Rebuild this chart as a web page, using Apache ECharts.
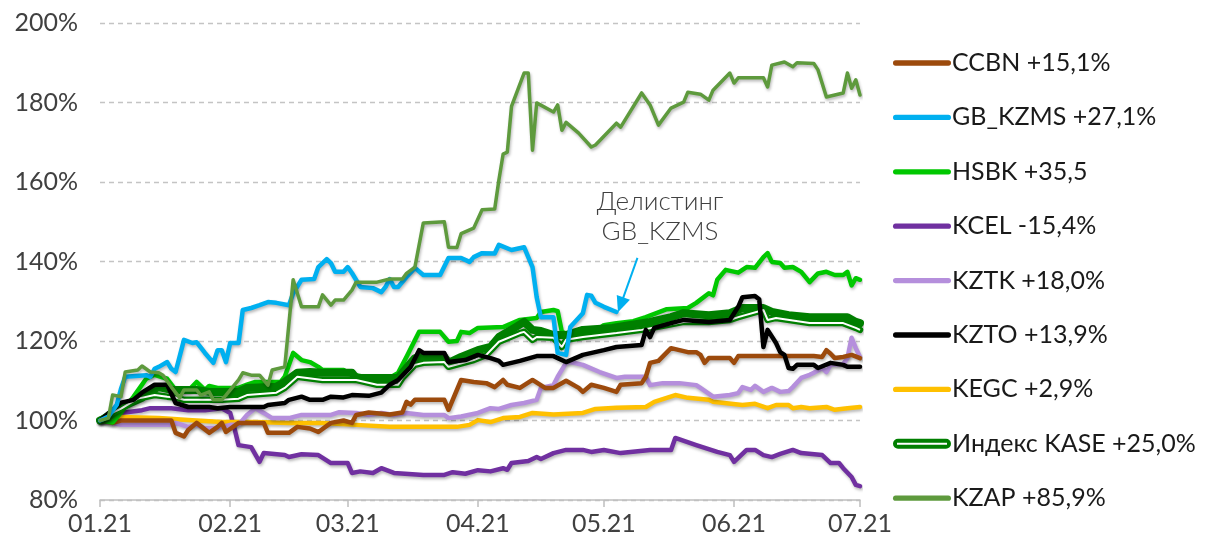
<!DOCTYPE html>
<html>
<head>
<meta charset="utf-8">
<script src="https://cdn.jsdelivr.net/npm/echarts@6/dist/echarts.min.js"></script>
<style>
  html, body { margin: 0; padding: 0; background: #fff; }
  #chart { width: 1210px; height: 541px; }
</style>
</head>
<body>
<div id="chart"></div>
<script>
  // дни от 01.01.2021 -> подписи месяцев
  const tickDays = [0, 31, 59, 90, 120, 151, 181];
  const tickLabels = ['01.21', '02.21', '03.21', '04.21', '05.21', '06.21', '07.21'];

  // [день, %]
  const ccbn = [[0,100],[3,99.4],[5,100],[17,100],[18,96.9],[20,96],[21,97.6],[23,99.4],[26,96.9],[28,98.4],[29,99.4],[30,97.1],[33,99.4],[39,99.4],[40,96.9],[45,96.9],[47,98.4],[50,98],[52,97.1],[55,99.4],[58,100],[60,99.4],[61,101.4],[64,102],[69,101.5],[72,102],[73,104.7],[74,104],[75,105.2],[82,105.2],[83,102.7],[85,107.7],[86,110.2],[89,109.7],[92,109.4],[94,108.4],[96,110.2],[97,109],[100,108.2],[103,110.2],[106,108.2],[108,108.2],[111,110],[114,108.2],[115,107.2],[117,109],[120,108.2],[123,107.2],[124,109],[129,109.4],[130,111],[131,114.5],[133,115],[136,118.2],[140,117.2],[142,117.2],[143,116.5],[144,114.5],[145,115.7],[150,115.7],[151,114.5],[152,116.2],[170,116.2],[172,116],[173,117.7],[174,116.8],[175,115.7],[177,116],[179,116.5],[181,115.7]];
  const gbKzms = [[0,100],[2,101],[4,104],[5,108],[6,111],[11,111.4],[12,111],[13,113],[14,113.5],[16,114.7],[17,113],[18,112.2],[20,120.3],[22,119.5],[23,119.7],[25,117],[27,114.5],[28,117.7],[29,117.7],[30,114.7],[31,119.5],[33,119.5],[34,127.8],[36,128.3],[38,129],[40,129.8],[42,129.6],[45,129],[46,132],[48,135.4],[51,135.6],[52,138.6],[54,140.6],[55,139.6],[56,137.4],[58,137.4],[59,138.6],[60,137.1],[62,133.6],[65,133.3],[67,132.3],[68,133.6],[69,135.6],[70,133.6],[71,133.6],[73,136.1],[75,138.4],[77,136.6],[81,136.6],[83,140.9],[86,140.9],[88,139.9],[89,141.1],[91,142.1],[94,142],[95,144.2],[98,142.9],[101,143.6],[103,138.6],[104,131],[105,126],[108,126],[109,117],[111,116.5],[112,123.5],[115,127],[116,131.6],[117,131.4],[118,129.6],[120,128.6],[123,127.3]];
  const hsbk = [[0,100],[3,99.5],[5,102],[8,106],[11,110.5],[13,111.5],[16,110.5],[18,107.7],[21,107.5],[23,109.7],[25,107.7],[26,108.7],[28,108.2],[33,108.2],[35,109],[37,109.7],[43,109.7],[44,111],[46,117],[48,115.2],[50,114.7],[52,113.5],[53,112.7],[58,112.7],[60,111.4],[61,111.4],[64,110.7],[69,110.7],[71,112],[73,116],[76,122.3],[81,122.3],[83,119.8],[85,120],[86,122.3],[88,122],[90,123.3],[96,123.5],[100,125.3],[104,125.8],[105,127.3],[108,127.8],[109,127.5],[110,122.3],[112,121.5],[117,121.7],[120,124],[123,124.5],[127,125],[130,126],[135,128],[140,128.3],[142,129.6],[145,132],[146,131.5],[147,135.4],[149,137.9],[152,137.2],[153,137.9],[154,138.6],[156,138.4],[158,141.1],[159,142.1],[160,139.9],[162,139.6],[163,138.4],[165,138.6],[167,137.4],[169,134.8],[171,137],[173,137.4],[175,136.6],[177,136.6],[178,137.4],[179,134],[180,135.8],[181,135.4]];
  const kcel = [[0,100],[5,101.9],[10,102.6],[12,103.1],[17,103.1],[21,102.6],[25,102.6],[29,103.1],[31,101.9],[32,98.1],[33,93.8],[36,93.3],[38,89.6],[39,91.8],[44,91.3],[45,90.8],[48,91.5],[52,91.3],[55,89.3],[59,89.3],[60,86.8],[62,87.2],[65,86.8],[67,88],[70,86.8],[77,86.3],[82,86.3],[84,87],[87,86.6],[90,87.5],[93,87.2],[96,88],[97,87.6],[98,89.3],[102,89.8],[104,90.8],[105,90.3],[108,91.8],[111,92.6],[115,92.6],[117,92.1],[120,92.6],[124,91.8],[131,92.6],[136,92.6],[137,95.6],[142,93.8],[147,92.1],[150,91.3],[151,89.6],[154,92.6],[156,92.6],[158,91.3],[160,90.8],[162,91.6],[165,92.6],[167,91.8],[172,91.3],[174,89.3],[176,89.3],[177,88],[179,85.8],[180,83.8],[181,83.5]];
  const kztk = [[0,100],[5,98.9],[17,98.9],[18,99.4],[21,98.4],[23,98.9],[25,98.1],[28,98.1],[31,98.9],[33,98.9],[35,101.4],[37,103.1],[39,101.9],[41,100.6],[45,100.6],[48,101.4],[55,101.4],[57,102.1],[61,101.9],[64,101.4],[67,101.9],[70,101.4],[73,101.9],[77,101.4],[82,101.4],[83,100.6],[86,101],[90,101.9],[93,103.1],[95,102.9],[98,103.9],[101,104.4],[104,105.2],[105,108.2],[108,108.9],[109,111],[111,114.5],[112,114.7],[115,114],[119,112.2],[123,110.7],[125,111],[130,111],[131,108.9],[134,109.4],[138,109.4],[142,108.9],[143,108.2],[146,106],[150,106.4],[152,106.9],[153,108.4],[155,107.7],[156,108.7],[158,107.2],[160,108.2],[162,107.2],[164,107.4],[165,108.4],[167,110.7],[169,111.5],[170,112],[172,113.2],[173,112.2],[174,114],[177,114.2],[178,115.7],[179,120.8],[180,118.2],[181,116]];
  const kzto = [[0,100],[5,104.5],[8,105.2],[10,107],[13,109],[16,109],[18,104.4],[21,103.4],[26,103.4],[28,103.1],[31,103.4],[39,103.4],[40,103.9],[44,104.4],[45,105.2],[48,106],[50,105.2],[53,105.2],[55,106],[58,105.8],[60,106.4],[64,106.2],[67,107],[69,109],[71,110.2],[74,113.5],[76,117.7],[77,117],[82,117],[83,114.7],[87,115.2],[90,116.5],[93,115.7],[95,115],[96,114],[100,115],[104,116.2],[108,116.2],[111,114.7],[115,116.5],[120,117.7],[123,118.5],[129,119],[130,122.8],[131,121],[132,123.3],[136,124.5],[139,125.3],[145,124.8],[150,125.3],[152,128.6],[153,131],[156,131.3],[157,130.5],[158,118.5],[159,122.8],[161,119.5],[162,117.2],[163,116.5],[164,113.2],[165,113],[166,114],[170,114],[171,113.2],[174,114.5],[177,114],[178,113.5],[181,113.5]];
  const kegc = [[0,100],[2,100.6],[5,100.9],[14,100.6],[21,100.1],[29,99.6],[37,99.6],[45,99.4],[53,99.4],[61,98.9],[69,98.4],[85,98.4],[88,98.9],[90,100.1],[93,99.6],[96,100.6],[100,100.9],[103,101.9],[108,101.5],[115,101.9],[118,102.9],[123,103.2],[130,103.4],[132,104.7],[137,106.4],[140,105.7],[145,105.2],[146,104.7],[153,103.9],[156,104.2],[159,103.1],[161,103.9],[164,103.9],[165,103.1],[167,103.4],[169,103.1],[173,103.4],[175,102.7],[178,103.1],[181,103.4]];
  const kase = [[0,100],[2,101.5],[5,103],[9,105.5],[13,106.4],[16,106],[18,105.8],[20,105.2],[29,105.2],[33,105.5],[35,106.4],[42,107],[44,108.2],[47,111],[53,110.2],[61,110.2],[66,109],[71,109],[72,110.7],[75,114],[77,114.5],[82,114.7],[83,113.5],[89,115.2],[92,116.5],[95,119.8],[100,122],[101,122.3],[103,120.3],[104,121],[108,120.8],[110,118.5],[111,120.3],[115,121],[123,122],[129,122.8],[135,124],[139,124.8],[145,124.8],[150,125.3],[152,126],[158,127.8],[159,125.3],[161,125.8],[169,124.5],[177,124.5],[180,123.3],[181,122.8]];
  const kaseBold = [[0,100],[2,100.8],[5,103.4],[10,105.7],[11,107],[14,108.4],[17,107.7],[23,107.7],[26,107.2],[33,107.2],[35,108.2],[42,108.5],[44,109.7],[47,112],[50,112.2],[53,112],[60,112],[61,110.7],[71,110.7],[72,112],[75,115.7],[77,116],[82,116],[83,114.5],[86,116],[90,117.7],[93,118.5],[95,121],[99,123.5],[101,124.8],[103,122.8],[105,122.5],[108,121.5],[111,121.5],[115,122.8],[122,123.3],[126,124],[131,124.8],[136,126],[139,127],[145,126.5],[150,127],[153,128.3],[158,128.3],[160,127.3],[164,126.5],[169,126],[178,126],[180,124.8],[181,124.5]];
  const kzap = [[0,100],[2,100.6],[3,106.4],[5,106],[6,112.2],[9,112.7],[10,113.7],[12,112.2],[14,112],[15,111.4],[17,108.4],[19,105.7],[20,107.7],[23,107.7],[24,106.4],[26,107.2],[27,105.2],[29,105.2],[30,106.4],[33,110.2],[34,112],[36,111.4],[38,111.4],[40,108.9],[41,112.7],[44,113.5],[46,135.4],[48,128.6],[52,128.6],[53,131.6],[55,129],[56,130.3],[58,130.3],[60,132.8],[61,134.8],[66,134.8],[69,135.6],[72,135.6],[73,137],[75,138.6],[77,149.7],[82,150],[83,143.6],[85,143.5],[86,147],[89,148.4],[91,153],[94,153.2],[95,160.5],[96,167],[97,167.5],[98,179],[101,187.4],[102,187.4],[103,168],[104,179.9],[108,177.6],[109,179.4],[110,173],[111,175],[114,172.3],[117,168.8],[118,169.3],[123,174.8],[124,173.8],[129,182.4],[131,179.4],[133,174.3],[136,178.6],[139,180.1],[140,182.6],[143,182.1],[145,180.6],[146,183.1],[150,187.4],[151,184.9],[152,186.2],[158,186.2],[159,183.9],[160,189.4],[163,190.2],[165,189],[166,190],[170,189.8],[171,188.2],[173,181.4],[177,182.4],[178,187.4],[179,183.6],[180,185.7],[181,181.9]];

  const legendNames = ['CCBN +15,1%', 'GB_KZMS +27,1%', 'HSBK +35,5', 'KCEL -15,4%', 'KZTK +18,0%',
    'KZTO +13,9%', 'KEGC +2,9%', 'Индекс KASE +25,0%', 'KZAP +85,9%'];

  // стрелка к подписи "Делистинг"
  const delistArrow = [[128, 140.9], [124, 129.1]];

  const lineIcon = 'path://M2.5,0H52.5A2.5,2.5 0 0 1 52.5,5H2.5A2.5,2.5 0 0 1 2.5,0Z';
  const kaseIcon = 'path://M5,0H53A5,5 0 0 1 53,10H5A5,5 0 0 1 5,0ZM4,4V6H54V4Z';

  const shadow = { shadowColor: 'rgba(0,0,0,0.28)', shadowBlur: 3, shadowOffsetX: 1, shadowOffsetY: 2 };

  function line(name, data, color, width, extra) {
    return Object.assign({
      name: name,
      type: 'line',
      data: data,
      showSymbol: false,
      symbol: 'none',
      color: color,
      lineStyle: Object.assign({ color: color, width: width, cap: 'round', join: 'round' }, shadow),
      emphasis: { disabled: true }
    }, extra || {});
  }

  const chart = echarts.init(document.getElementById('chart'));
  chart.setOption({
    animation: false,
    grid: { left: 100, right: 350, top: 23, bottom: 41 },
    legend: {
      orient: 'vertical',
      left: 888,
      top: 43,
      itemWidth: 58,
      itemHeight: 10,
      itemGap: 24.4,
      selectedMode: false,
      textStyle: { fontFamily: 'Lato', fontSize: 25, color: '#1a1a1a', lineHeight: 30, padding: [0, 0, 0, -4] },
      data: legendNames.map(function (n) {
        return { name: n, icon: n.indexOf('KASE') >= 0 ? kaseIcon : lineIcon };
      })
    },
    xAxis: {
      type: 'value',
      min: 0,
      max: 181,
      splitLine: { show: false },
      axisLine: { lineStyle: { color: '#bfbfbf', width: 1.5 } },
      axisTick: { show: true, length: 7, customValues: tickDays, lineStyle: { color: '#bfbfbf', width: 1.5 } },
      axisLabel: {
        customValues: tickDays,
        margin: 11,
        fontFamily: 'Lato',
        fontSize: 25,
        color: '#404040',
        formatter: function (v) { return tickLabels[tickDays.indexOf(v)]; }
      }
    },
    yAxis: {
      type: 'value',
      min: 80,
      max: 200,
      interval: 20,
      axisLine: { show: false },
      axisTick: { show: false },
      splitLine: { lineStyle: { color: '#c4c4c4', type: [5, 4], width: 1.3 } },
      axisLabel: { margin: 22, fontFamily: 'Lato', fontSize: 25, color: '#404040', formatter: '{value}%' }
    },
    graphic: [{
      type: 'text',
      x: 660,
      y: 187,
      style: {
        text: 'Делистинг\nGB_KZMS',
        align: 'center',
        verticalAlign: 'top',
        font: '300 26px Lato',
        lineHeight: 30,
        fill: '#404040'
      }
    }],
    series: [
      line('KCEL -15,4%', kcel, '#7030a0', 4.5),
      line('KEGC +2,9%', kegc, '#ffc000', 4.5),
      line('KZTK +18,0%', kztk, '#b58fdc', 4.5),
      line('CCBN +15,1%', ccbn, '#9c4a0c', 4.5),
      line('HSBK +35,5', hsbk, '#00c800', 4.5),
      line('kaseBold', kaseBold, '#007f00', 8),
      line('Индекс KASE +25,0%', kase, '#007f00', 6.5),
      line('Индекс KASE +25,0%', kase, '#ffffff', 2, { lineStyle: { color: '#ffffff', width: 2 } }),
      line('KZTO +13,9%', kzto, '#000000', 4.5),
      line('GB_KZMS +27,1%', gbKzms, '#00b0f0', 4.5, {
        markLine: {
          silent: true,
          symbol: ['none', 'triangle'],
          symbolSize: [14, 16],
          label: { show: false },
          lineStyle: { color: '#00b0f0', width: 2, type: 'solid' },
          data: [[{ coord: delistArrow[0] }, { coord: delistArrow[1] }]]
        }
      }),
      line('KZAP +85,9%', kzap, '#5e9a3d', 3.5)
    ]
  });
</script>
</body>
</html>
